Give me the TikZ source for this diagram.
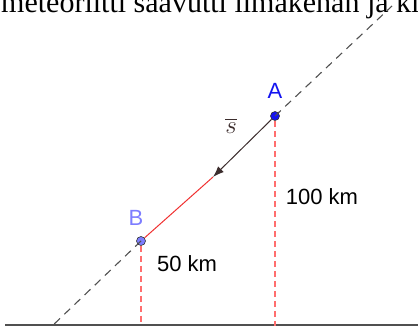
\documentclass[tikz,border=0pt]{standalone}
\usepackage{fontspec}
\setmainfont{Liberation Serif}
\newfontfamily\labelfont{Liberation Sans}
\usepackage{amsmath}
\definecolor{PtBlue}{RGB}{20,20,240}
\definecolor{PtLight}{RGB}{125,125,255}
\definecolor{GuideRed}{RGB}{255,110,110}
\definecolor{VecRed}{RGB}{240,50,50}
\definecolor{VecDark}{RGB}{60,45,45}
\definecolor{GroundGrey}{RGB}{80,80,80}
\usetikzlibrary{arrows.meta, positioning, calc}

\begin{document}
\begin{tikzpicture}[x=1pt, y=-1pt,
    pt/.style={circle, draw=black!80, line width=0.6pt, inner sep=0pt, minimum size=9pt},
    lbl/.style={font=\labelfont\fontsize{22}{24}\selectfont, inner sep=0pt},
    guide/.style={GroundGrey, line width=1.1pt, dash pattern=on 8pt off 6pt},
    drop/.style={GuideRed, line width=1.6pt, dash pattern=on 6pt off 4pt},
    vec/.style={-{Latex[length=11pt, width=8pt]}, VecDark, line width=1pt}
  ]
    \clip (0,0) rectangle (418,326);

    % Caption line, cut off at the top
    \node[anchor=base west, inner sep=0pt, font=\fontsize{30}{36}\selectfont]
      (caption) at (1,13) {meteoriitti saavutti ilmakehän ja kiihtyi};

    % Ground
    \coordinate (gl) at (5,325);
    \coordinate (gr) at (418,325);
    \draw[GroundGrey, line width=1.3pt] (gl) -- (gr);

    % Points
    \node[pt, fill=PtBlue] (A) at (275,116) {};
    \node[pt, fill=PtLight] (B) at (141,241) {};
    \node[lbl, text=PtBlue] (Alab) at (275,91) {A};
    \node[lbl, text=PtLight] (Blab) at (136,218) {B};

    % Trajectory
    \coordinate (top) at (392,6);
    \coordinate (low) at (50,328);
    \draw[guide] (A.center) -- (top);
    \draw[guide] (B.center) -- (low);

    % Heights
    \coordinate (A0) at (275,326);
    \coordinate (B0) at (141,326);
    \draw[drop] (A.south) -- (A0);
    \draw[drop] (B.south) -- (B0);
    \node[lbl] (hA) at (322,197) {100 km};
    \node[lbl] (hB) at (187,264) {50 km};

    % Displacement vector
    \coordinate (tip) at (213,177);
    \draw[VecRed, line width=1pt] (tip) -- (B);
    \draw[vec] (A) -- (tip);
    \node[inner sep=0pt, text=VecDark, font=\fontsize{24}{26}\selectfont] (s) at (231,126)
      {$\overline{s}$};
  \end{tikzpicture}
\end{document}
